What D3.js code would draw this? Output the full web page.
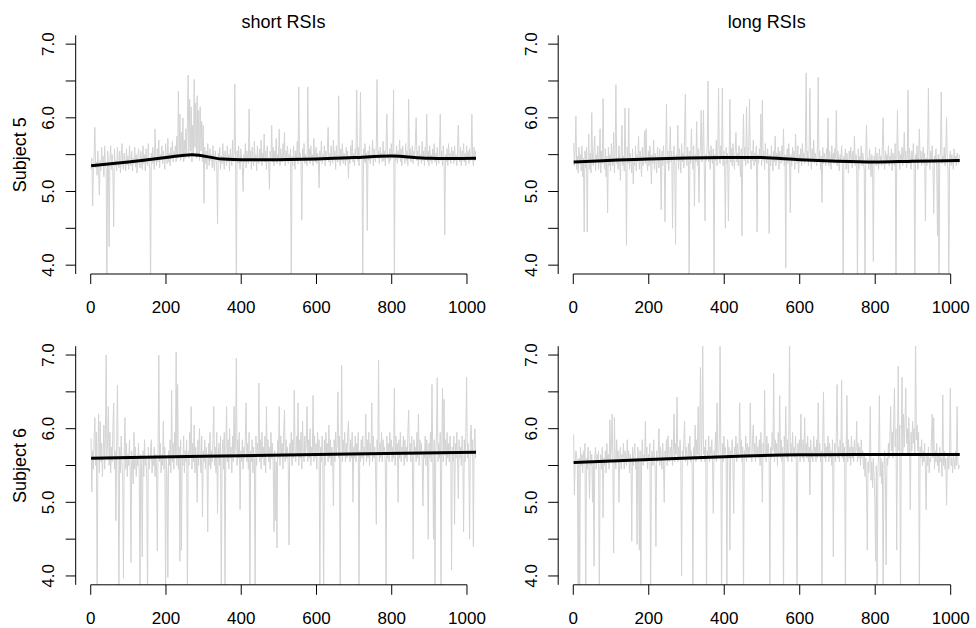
<!DOCTYPE html>
<html>
<head>
<meta charset="utf-8">
<script src="https://cdn.jsdelivr.net/npm/d3@7/dist/d3.min.js"></script>
<style>
  body { margin: 0; background: #fff; }
  text { font-family: "Liberation Sans", Arial, Helvetica, sans-serif; fill: #000; }
</style>
</head>
<body>
<svg id="chart" width="976" height="628"></svg>
<script>

// trial index of each value: 1 + i * step
var step = 2;
var nTrials = 1024;

var s5short = [
  5.30, 5.45, 4.80, 5.25, 5.50, 5.87, 5.32, 5.40, 5.22, 5.55, 5.30, 4.95, 5.42, 5.28, 5.60, 5.35,
  5.48, 5.20, 5.62, 5.38, 5.30, 3.60, 5.55, 5.35, 4.25, 5.45, 5.62, 5.30, 5.50, 5.25, 4.52, 5.58,
  5.35, 5.42, 5.28, 5.60, 5.40, 5.32, 5.55, 5.25, 5.45, 5.65, 5.38, 5.30, 5.52, 5.40, 5.28, 5.58,
  5.36, 5.48, 5.30, 5.62, 5.42, 5.35, 5.55, 5.28, 5.45, 5.38, 5.60, 5.33, 5.50, 5.25, 5.45, 5.58,
  5.40, 5.32, 5.55, 5.45, 5.30, 5.62, 5.38, 5.50, 5.28, 5.58, 5.42, 5.35, 5.65, 5.40, 5.30, 3.60,
  5.52, 5.38, 5.60, 5.42, 5.30, 5.85, 5.45, 5.35, 5.58, 5.40, 5.70, 5.32, 5.50, 5.45, 5.62, 5.38,
  5.55, 5.42, 5.30, 5.65, 5.45, 5.38, 5.72, 5.40, 5.52, 5.35, 5.60, 5.45, 5.68, 5.40, 5.55, 5.48,
  5.62, 5.40, 5.75, 5.45, 6.36, 5.50, 6.05, 5.42, 5.80, 5.48, 6.00, 5.40, 5.70, 5.45, 5.85, 5.52,
  5.95, 6.58, 5.45, 6.25, 5.55, 6.15, 5.40, 5.90, 5.48, 6.52, 5.60, 6.20, 5.45, 6.30, 5.50, 6.10,
  5.42, 6.15, 5.55, 5.95, 5.40, 5.90, 4.84, 5.60, 5.38, 5.55, 5.30, 5.65, 5.45, 5.35, 5.58, 5.42,
  5.50, 5.32, 5.62, 5.40, 5.28, 5.55, 5.45, 5.35, 4.56, 5.52, 5.40, 5.60, 5.30, 5.48, 5.38, 5.65,
  5.42, 5.30, 5.55, 5.45, 5.35, 5.62, 5.40, 5.50, 5.28, 5.58, 5.45, 5.35, 5.70, 5.40, 5.52, 6.46,
  5.45, 3.60, 5.55, 5.38, 5.62, 5.42, 5.30, 5.58, 5.45, 5.35, 5.00, 5.50, 5.40, 5.65, 5.32, 5.55,
  5.45, 5.38, 6.12, 5.42, 5.55, 5.30, 5.60, 5.45, 5.35, 5.68, 5.40, 5.50, 5.28, 5.62, 5.45, 5.38,
  5.58, 5.42, 5.70, 5.35, 5.52, 5.45, 5.78, 5.40, 5.55, 5.30, 5.62, 5.45, 5.38, 5.03, 5.55, 5.42,
  5.90, 5.40, 5.60, 5.35, 5.55, 5.45, 5.72, 5.38, 5.50, 5.42, 5.85, 5.35, 5.58, 5.45, 5.40, 5.65,
  5.42, 5.80, 5.35, 5.55, 5.45, 5.62, 5.38, 5.50, 5.42, 5.58, 3.60, 5.48, 5.35, 5.62, 5.45, 5.30,
  5.55, 5.42, 5.68, 5.38, 6.42, 5.45, 5.52, 5.35, 4.61, 5.58, 5.42, 5.65, 5.38, 5.50, 5.45, 5.35,
  6.42, 5.45, 5.58, 5.38, 5.62, 5.42, 5.50, 5.35, 5.72, 5.45, 5.40, 5.60, 5.38, 5.52, 5.45, 5.05,
  5.55, 5.42, 5.68, 5.38, 5.50, 5.45, 5.62, 5.35, 5.55, 5.42, 5.58, 5.87, 5.40, 5.52, 5.35, 5.62,
  5.45, 5.38, 5.70, 5.42, 5.55, 5.30, 5.62, 5.45, 5.40, 6.30, 5.48, 5.35, 5.58, 5.42, 5.65, 5.38,
  5.52, 5.45, 5.35, 5.60, 5.42, 5.55, 5.18, 5.48, 5.38, 5.62, 5.45, 5.70, 5.40, 5.52, 5.35, 5.58,
  5.45, 6.38, 5.42, 5.60, 5.35, 5.55, 6.35, 5.45, 5.50, 3.60, 5.58, 5.40, 5.65, 5.38, 5.52, 4.47,
  5.55, 5.42, 5.62, 5.38, 5.50, 5.45, 5.70, 5.35, 5.58, 5.45, 5.40, 5.62, 6.52, 5.45, 5.55, 5.38,
  5.60, 5.45, 5.52, 5.40, 5.68, 5.42, 5.55, 5.35, 5.62, 6.05, 5.45, 5.50, 5.38, 5.58, 5.42, 5.65,
  5.45, 5.55, 6.38, 3.60, 5.52, 5.42, 5.62, 5.38, 5.55, 5.45, 5.70, 5.40, 5.58, 5.35, 5.62, 5.45,
  5.50, 5.38, 5.65, 5.42, 5.55, 5.35, 6.25, 5.45, 5.58, 5.40, 5.52, 5.62, 5.38, 5.55, 5.45, 5.70,
  6.00, 5.42, 5.55, 5.35, 5.62, 5.45, 5.50, 5.38, 5.68, 5.42, 5.55, 5.35, 5.60, 5.45, 6.05, 5.40,
  5.55, 5.35, 5.62, 5.42, 5.50, 5.38, 5.58, 5.45, 5.65, 5.40, 5.52, 5.35, 5.60, 5.45, 5.38, 5.55,
  6.05, 5.42, 5.55, 5.35, 5.62, 5.45, 4.41, 5.50, 5.40, 5.58, 5.35, 5.65, 5.42, 5.52, 5.38, 5.60,
  5.45, 5.55, 5.38, 5.62, 5.42, 5.50, 5.35, 5.58, 5.90, 5.45, 5.40, 5.60, 5.35, 5.55, 5.42, 5.65,
  5.40, 5.52, 5.35, 5.62, 5.45, 5.55, 5.38, 5.58, 5.42, 5.50, 6.05, 5.45, 5.35, 5.60, 5.42, 5.55
];

var s5long = [
  5.66, 5.35, 5.55, 6.02, 5.30, 5.48, 5.25, 5.60, 5.38, 5.50, 5.28, 5.62, 5.20, 5.45, 4.45, 5.55,
  5.32, 5.60, 4.45, 5.40, 5.78, 5.30, 5.52, 5.25, 6.07, 5.45, 5.35, 5.58, 5.75, 5.28, 5.50, 5.40,
  5.62, 5.30, 5.45, 5.85, 5.25, 5.55, 5.38, 6.26, 5.42, 5.30, 5.58, 5.20, 5.48, 4.71, 5.60, 5.35,
  5.50, 5.28, 5.65, 5.40, 5.35, 5.80, 5.25, 5.52, 6.45, 5.38, 5.45, 5.30, 5.62, 5.42, 5.15, 5.55,
  5.90, 5.35, 5.48, 5.28, 6.13, 5.45, 4.27, 5.60, 5.38, 6.13, 5.30, 5.52, 5.42, 5.25, 5.58, 5.10,
  5.45, 5.35, 5.62, 5.28, 5.50, 5.40, 5.75, 5.30, 5.55, 5.42, 5.20, 5.60, 5.35, 5.48, 5.82, 5.38,
  5.85, 5.40, 5.28, 5.55, 5.35, 5.62, 5.45, 5.10, 5.50, 5.38, 5.70, 5.30, 5.52, 5.42, 5.25, 5.60,
  5.45, 5.32, 5.58, 5.40, 4.75, 5.55, 5.35, 5.62, 5.42, 4.59, 5.50, 6.19, 5.38, 5.55, 5.28, 5.45,
  5.88, 5.40, 5.55, 4.50, 5.45, 5.62, 5.35, 4.28, 5.50, 5.42, 5.90, 5.30, 5.58, 5.45, 5.25, 5.65,
  5.40, 5.52, 5.32, 5.78, 6.32, 5.45, 5.35, 5.60, 5.42, 3.60, 5.55, 5.38, 5.85, 5.45, 5.30, 5.62,
  4.80, 5.50, 5.40, 5.95, 5.35, 5.58, 4.85, 5.45, 5.62, 6.10, 5.40, 5.55, 6.10, 5.35, 4.60, 5.50,
  5.42, 5.65, 6.50, 5.40, 5.55, 5.30, 5.62, 5.45, 5.38, 5.58, 3.60, 5.50, 5.42, 5.70, 5.35, 5.55,
  6.40, 5.45, 5.38, 5.62, 5.48, 6.40, 5.35, 5.55, 5.42, 4.50, 5.60, 5.38, 5.52, 4.60, 5.45, 6.25,
  5.40, 5.58, 5.35, 5.65, 5.45, 5.30, 5.55, 5.80, 5.40, 5.52, 5.35, 5.62, 5.45, 5.20, 5.58, 4.40,
  5.50, 6.05, 5.42, 5.60, 5.35, 6.15, 5.48, 5.38, 5.62, 6.25, 5.45, 5.30, 5.55, 5.42, 5.70, 5.35,
  5.52, 5.40, 5.62, 4.45, 5.50, 5.38, 5.58, 5.45, 6.05, 5.35, 6.24, 5.42, 5.55, 5.30, 5.65, 5.45,
  5.38, 5.58, 5.42, 4.43, 5.50, 5.35, 5.62, 5.45, 5.28, 5.55, 5.40, 5.75, 5.35, 5.52, 5.42, 5.60,
  5.30, 5.55, 5.45, 5.38, 5.62, 5.42, 5.85, 5.35, 5.50, 3.96, 5.45, 5.58, 5.38, 5.65, 5.42, 4.71,
  5.50, 5.35, 5.60, 5.42, 5.55, 5.30, 5.78, 5.45, 5.38, 5.62, 5.25, 5.50, 5.42, 5.58, 5.35, 5.65,
  5.45, 5.52, 5.38, 5.60, 6.61, 5.42, 5.55, 5.35, 5.62, 6.40, 5.45, 5.30, 5.58, 5.42, 5.70, 5.38,
  5.52, 5.45, 5.35, 5.62, 6.55, 5.40, 5.55, 5.30, 5.48, 4.85, 5.60, 5.38, 5.52, 5.45, 5.35, 5.58,
  5.42, 6.00, 5.35, 5.55, 5.45, 5.30, 5.62, 5.40, 5.52, 5.38, 5.58, 5.45, 6.10, 5.35, 5.55, 5.42,
  5.28, 5.50, 5.40, 5.62, 5.35, 3.60, 5.48, 5.40, 5.58, 5.30, 5.52, 5.42, 5.25, 5.55, 5.38, 5.60,
  5.45, 5.32, 5.55, 5.40, 5.75, 5.35, 5.50, 5.42, 3.60, 5.58, 5.30, 5.48, 5.40, 5.62, 5.35, 5.52,
  5.42, 5.28, 3.60, 5.55, 5.90, 5.38, 5.45, 5.30, 5.58, 5.42, 5.20, 5.50, 5.35, 4.05, 5.48, 5.40,
  5.60, 5.35, 5.52, 5.42, 5.30, 5.58, 5.40, 5.48, 5.35, 5.62, 6.00, 5.42, 5.30, 5.55, 5.38, 5.50,
  5.42, 5.62, 5.35, 5.48, 5.40, 5.58, 5.28, 5.52, 5.45, 5.35, 5.65, 3.60, 5.42, 6.10, 5.38, 5.55,
  5.30, 5.50, 5.42, 5.60, 5.35, 5.48, 5.80, 5.40, 5.55, 5.32, 5.45, 6.38, 5.38, 5.58, 5.42, 5.30,
  5.55, 5.40, 5.65, 5.35, 3.60, 5.50, 5.42, 5.62, 5.30, 5.48, 5.85, 5.40, 5.55, 5.35, 5.45, 5.60,
  5.38, 5.52, 4.60, 5.45, 5.35, 5.58, 6.40, 5.42, 5.30, 5.55, 5.40, 5.62, 5.35, 4.70, 5.48, 5.40,
  5.58, 5.32, 4.40, 5.50, 3.60, 5.45, 5.55, 6.35, 5.38, 5.48, 5.42, 5.60, 5.35, 5.52, 6.00, 5.40,
  5.28, 3.60, 5.45, 5.55, 5.35, 5.50, 5.42, 5.30, 5.58, 5.40, 5.48, 5.35, 5.52, 5.42, 5.38, 5.50
];

var s6short = [
  5.87, 5.14, 5.70, 5.45, 5.85, 6.15, 5.50, 5.95, 3.60, 5.60, 6.20, 5.40, 6.10, 5.55, 5.80, 5.35,
  5.65, 6.05, 5.45, 5.90, 7.00, 5.60, 5.85, 6.30, 5.50, 5.95, 5.40, 5.75, 5.55, 6.00, 6.35, 5.45,
  5.70, 4.75, 5.85, 6.59, 5.50, 3.60, 5.75, 5.40, 5.90, 5.55, 5.30, 3.97, 5.70, 6.15, 5.45, 5.80,
  5.35, 5.65, 5.50, 5.85, 5.40, 4.18, 5.70, 5.55, 5.25, 5.95, 5.45, 5.75, 5.35, 5.60, 5.50, 5.80,
  5.40, 3.60, 5.65, 5.45, 4.26, 5.70, 5.35, 5.85, 5.50, 5.60, 5.30, 3.60, 5.75, 5.45, 5.55, 5.70,
  5.85, 5.40, 5.60, 5.50, 5.75, 5.35, 5.65, 5.45, 4.34, 5.70, 7.00, 5.55, 5.80, 5.40, 5.65, 5.50,
  6.10, 5.45, 5.75, 3.60, 5.60, 5.35, 3.98, 5.70, 5.50, 5.85, 5.40, 6.52, 5.55, 5.80, 5.45, 5.95,
  5.60, 7.04, 5.50, 6.60, 5.45, 5.75, 4.20, 5.85, 4.35, 5.65, 5.50, 5.90, 5.40, 5.70, 5.55, 5.85,
  3.60, 5.70, 5.50, 5.95, 5.60, 6.30, 5.45, 5.80, 5.55, 6.05, 5.40, 5.75, 5.60, 5.00, 5.85, 5.50,
  6.00, 5.65, 5.40, 5.90, 4.80, 5.70, 5.55, 5.85, 5.45, 5.75, 5.60, 4.60, 5.80, 5.50, 5.95, 5.45,
  5.70, 5.55, 5.85, 6.30, 5.50, 5.75, 5.40, 5.95, 4.85, 5.65, 5.80, 5.50, 5.90, 3.60, 5.60, 5.85,
  5.45, 5.95, 3.60, 5.70, 6.30, 5.55, 5.85, 5.45, 6.00, 5.60, 5.75, 5.40, 5.90, 5.55, 6.30, 5.65,
  5.80, 6.96, 5.50, 5.85, 5.60, 5.95, 4.90, 5.70, 5.55, 5.85, 5.45, 5.75, 5.60, 5.90, 6.35, 5.55,
  5.80, 5.45, 5.95, 3.60, 5.70, 5.55, 5.85, 5.40, 5.75, 5.60, 3.60, 5.90, 5.50, 5.80, 5.65, 6.62,
  5.55, 5.85, 5.45, 5.95, 5.60, 5.75, 5.50, 5.90, 5.40, 6.30, 5.65, 5.85, 5.55, 5.75, 5.45, 5.95,
  5.60, 5.80, 5.50, 4.60, 5.70, 4.75, 5.55, 4.38, 5.85, 5.60, 6.30, 5.50, 5.90, 5.65, 5.80, 5.45,
  5.95, 6.25, 5.55, 5.85, 5.60, 5.75, 5.50, 4.42, 5.80, 5.65, 5.95, 5.50, 5.85, 5.60, 6.52, 5.70,
  5.55, 5.90, 5.65, 6.35, 5.50, 5.85, 5.60, 5.95, 5.45, 6.10, 5.70, 5.55, 5.90, 5.65, 5.80, 6.30,
  5.55, 5.85, 5.60, 6.00, 5.50, 5.75, 5.65, 6.45, 5.55, 5.90, 5.60, 5.80, 5.45, 5.95, 5.65, 5.85,
  3.60, 5.75, 5.55, 5.90, 5.60, 3.60, 5.85, 5.50, 5.95, 5.65, 5.80, 5.55, 6.05, 5.60, 5.85, 5.50,
  5.75, 5.60, 4.95, 5.85, 5.55, 5.95, 5.65, 5.80, 6.50, 5.60, 5.90, 3.60, 5.70, 6.86, 5.55, 5.85,
  5.65, 5.95, 5.55, 5.80, 5.60, 5.90, 6.10, 5.70, 5.55, 5.85, 5.60, 5.95, 5.00, 5.75, 5.60, 5.90,
  5.55, 5.80, 5.65, 5.95, 3.60, 5.70, 5.55, 5.85, 5.60, 5.90, 5.50, 5.75, 5.65, 6.20, 5.55, 5.85,
  5.60, 5.95, 5.50, 5.80, 5.65, 6.35, 5.55, 5.90, 5.60, 5.75, 5.50, 4.70, 5.85, 5.65, 6.93, 5.55,
  5.80, 5.60, 5.95, 5.55, 5.85, 5.65, 5.75, 5.50, 3.60, 5.90, 5.60, 5.80, 5.55, 5.95, 5.65, 5.85,
  5.55, 5.75, 5.60, 6.55, 5.50, 5.90, 5.65, 5.80, 5.00, 5.85, 5.60, 5.95, 5.55, 5.75, 5.65, 5.90,
  5.50, 5.85, 5.60, 5.75, 5.55, 5.95, 6.25, 5.65, 5.80, 5.55, 5.90, 5.60, 4.23, 5.85, 5.65, 5.75,
  5.55, 5.95, 5.60, 6.20, 5.50, 5.85, 5.65, 5.80, 5.55, 4.95, 5.70, 5.60, 5.90, 5.50, 5.85, 5.65,
  4.50, 5.80, 5.60, 5.95, 5.55, 6.60, 5.70, 4.50, 5.85, 3.60, 5.65, 5.90, 6.69, 5.55, 5.80, 5.60,
  5.95, 3.60, 5.70, 6.55, 5.55, 6.40, 5.65, 5.85, 5.50, 5.95, 5.60, 5.80, 5.55, 5.90, 5.65, 4.08,
  5.75, 5.55, 5.90, 4.70, 5.80, 5.60, 5.95, 5.55, 5.05, 5.85, 5.60, 5.75, 5.50, 5.90, 5.65, 4.60,
  5.85, 5.55, 5.95, 6.70, 5.60, 5.80, 5.55, 4.50, 5.90, 6.05, 5.65, 5.85, 4.40, 5.75, 6.00, 5.60
];

var s6long = [
  5.92, 5.10, 5.55, 5.70, 5.65, 5.45, 3.60, 5.60, 3.60, 5.75, 5.50, 5.65, 5.40, 5.70, 5.55, 5.80,
  3.60, 5.60, 5.45, 5.75, 5.55, 5.05, 5.70, 5.50, 5.65, 5.00, 5.55, 4.13, 5.60, 5.75, 5.45, 5.65,
  5.55, 5.70, 3.60, 5.50, 5.65, 5.45, 5.75, 4.79, 5.60, 5.50, 5.70, 5.40, 5.80, 5.55, 5.65, 5.45,
  6.12, 5.55, 5.75, 6.20, 5.50, 4.31, 6.15, 5.60, 5.45, 5.85, 5.55, 5.70, 5.00, 5.60, 5.75, 5.45,
  5.65, 5.55, 5.80, 5.45, 5.70, 5.60, 5.50, 5.85, 5.55, 5.70, 5.40, 5.65, 5.55, 4.47, 5.75, 5.50,
  5.65, 5.80, 5.45, 5.60, 4.43, 5.75, 5.55, 4.35, 5.70, 3.60, 5.60, 5.85, 5.50, 5.65, 5.55, 6.10,
  5.55, 5.75, 5.45, 5.65, 5.60, 5.80, 3.60, 5.55, 5.70, 5.50, 5.85, 5.60, 5.45, 4.40, 5.70, 5.55,
  5.65, 6.00, 5.50, 5.75, 5.60, 5.45, 5.80, 5.55, 5.00, 5.70, 5.60, 5.85, 5.50, 5.90, 5.65, 5.55,
  5.75, 5.60, 5.85, 5.50, 5.70, 6.20, 5.55, 5.80, 5.65, 6.43, 5.55, 5.75, 5.60, 5.85, 5.50, 4.00,
  5.70, 5.60, 5.85, 6.10, 5.55, 5.75, 5.65, 5.50, 5.80, 5.60, 5.90, 5.55, 5.70, 5.45, 3.60, 5.75,
  5.60, 6.05, 5.55, 5.85, 5.65, 6.30, 5.60, 5.80, 6.83, 5.55, 5.90, 7.30, 5.65, 5.75, 5.55, 5.85,
  3.60, 5.70, 5.60, 5.90, 5.55, 5.75, 5.65, 5.85, 5.50, 4.85, 5.70, 5.60, 5.95, 5.55, 6.35, 5.70,
  5.60, 5.85, 7.30, 5.65, 3.60, 5.80, 5.55, 5.90, 5.65, 5.75, 5.55, 3.60, 5.85, 5.60, 5.75, 4.35,
  5.70, 5.60, 5.85, 5.55, 4.85, 5.75, 5.65, 5.90, 5.55, 5.80, 5.60, 5.70, 6.35, 5.65, 5.85, 5.55,
  5.75, 3.60, 5.70, 5.60, 5.90, 5.55, 5.80, 5.65, 5.75, 5.60, 6.35, 5.70, 5.55, 5.85, 6.05, 5.65,
  5.80, 5.55, 5.90, 5.65, 5.75, 5.60, 5.85, 5.50, 5.95, 5.65, 5.00, 5.80, 5.60, 6.52, 5.70, 5.55,
  5.90, 5.65, 5.80, 5.55, 3.60, 5.75, 5.60, 5.95, 5.70, 6.75, 5.55, 5.85, 5.65, 5.80, 5.50, 5.95,
  5.65, 6.45, 5.60, 5.85, 5.55, 5.75, 3.60, 5.90, 5.65, 6.30, 5.60, 5.85, 5.55, 5.75, 7.30, 5.65,
  5.80, 5.55, 5.95, 5.65, 5.75, 5.60, 5.90, 5.55, 3.60, 5.80, 5.65, 5.85, 5.55, 6.20, 5.70, 5.60,
  5.85, 5.55, 6.15, 5.65, 5.80, 5.60, 5.90, 5.55, 5.75, 5.10, 5.85, 5.60, 5.70, 5.55, 5.90, 5.65,
  5.75, 5.55, 5.85, 5.60, 6.35, 5.65, 5.80, 5.55, 5.70, 3.60, 5.90, 6.50, 5.60, 5.80, 5.55, 5.75,
  5.65, 5.90, 5.55, 5.80, 5.60, 5.70, 5.50, 5.85, 4.26, 5.65, 5.80, 5.55, 5.95, 6.60, 5.60, 5.75,
  5.55, 5.85, 5.65, 6.66, 5.60, 5.80, 5.55, 5.75, 3.60, 5.65, 6.45, 5.55, 5.85, 5.60, 5.75, 5.50,
  5.90, 5.60, 5.75, 5.55, 5.85, 5.65, 5.70, 6.10, 5.55, 5.80, 5.60, 5.75, 5.50, 5.85, 5.60, 5.70,
  5.45, 5.65, 5.35, 5.60, 5.25, 4.35, 5.55, 5.40, 5.65, 6.30, 5.30, 5.55, 5.20, 5.60, 5.35, 5.05,
  4.20, 5.50, 3.60, 5.40, 5.65, 6.45, 5.35, 5.60, 5.25, 5.55, 3.60, 5.45, 5.70, 5.35, 4.15, 5.60,
  5.50, 5.80, 5.60, 5.90, 6.30, 5.70, 5.95, 5.60, 6.10, 6.55, 5.75, 6.00, 4.35, 5.85, 6.85, 5.70,
  6.05, 3.60, 5.80, 6.70, 5.65, 6.20, 5.75, 6.10, 6.55, 5.80, 6.00, 5.65, 6.15, 5.75, 4.90, 5.95,
  5.70, 6.10, 5.80, 6.00, 5.65, 7.30, 5.85, 6.05, 5.70, 5.95, 3.60, 5.75, 5.60, 5.85, 5.50, 5.70,
  5.55, 5.80, 5.45, 4.90, 5.65, 5.50, 5.75, 5.40, 5.60, 5.55, 5.85, 6.20, 5.60, 6.15, 5.45, 5.70,
  5.55, 5.80, 5.50, 5.65, 5.40, 5.75, 5.55, 5.60, 5.35, 6.46, 5.50, 5.70, 5.45, 5.60, 4.96, 5.55,
  5.65, 5.45, 5.70, 6.55, 5.50, 5.60, 5.40, 5.65, 5.55, 5.45, 5.70, 5.50, 6.30, 5.55, 5.45, 5.50
];

// smoothed trend lines
var smooth5shortX = [1, 100, 200, 270, 350, 450, 600, 700, 800, 900, 1024];
var smooth5shortY = [5.35, 5.40, 5.46, 5.50, 5.44, 5.43, 5.44, 5.46, 5.48, 5.45, 5.45];
var smooth5longX = [1, 200, 400, 500, 600, 700, 800, 900, 1024];
var smooth5longY = [5.40, 5.44, 5.46, 5.46, 5.43, 5.41, 5.40, 5.41, 5.42];
var smooth6shortX = [1, 300, 600, 1024];
var smooth6shortY = [5.60, 5.625, 5.65, 5.68];
var smooth6longX = [1, 200, 400, 600, 800, 1024];
var smooth6longY = [5.54, 5.58, 5.62, 5.645, 5.65, 5.65];

var xTicks = [0, 200, 400, 600, 800, 1000];
var yTicks = [4, 4.5, 5, 5.5, 6, 6.5, 7];
var yLabelTicks = [4, 5, 6, 7];
var colTitles = ["short RSIs", "long RSIs"];
var rowLabels = ["Subject 5", "Subject 6"];

var svg = d3.select("#chart");

var cols = [{left: 75.7, right: 491.4}, {left: 558.2, right: 975.2}];
var rows = [{top: 35.3, bottom: 274}, {top: 346.2, bottom: 584.8}];

function draw(id, values, smX, smY, col, row) {
  var c = cols[col], r = rows[row];
  var pad = 0.04 * (nTrials - 1);

  var x = d3.scaleLinear()
      .domain([1 - pad, nTrials + pad])
      .range([c.left, c.right]);

  var y = d3.scaleLinear()
      .domain([4 - 0.12, 7 + 0.12])
      .range([r.bottom, r.top]);

  var g = svg.append("g");

  g.append("clipPath")
      .attr("id", "clip-" + id)
    .append("rect")
      .attr("x", c.left)
      .attr("y", r.top)
      .attr("width", c.right - c.left)
      .attr("height", r.bottom - r.top);

  var line = d3.line()
      .x(function(d, i) { return x(1 + i * step); })
      .y(function(d) { return y(d); });

  g.append("path")
      .datum(values)
      .attr("clip-path", "url(#clip-" + id + ")")
      .attr("fill", "none")
      .attr("stroke", "#d3d3d3")
      .attr("stroke-width", 1)
      .attr("stroke-linejoin", "round")
      .attr("d", line);

  var smooth = d3.line()
      .curve(d3.curveCatmullRom)
      .x(function(d) { return x(d[0]); })
      .y(function(d) { return y(d[1]); });

  g.append("path")
      .datum(d3.zip(smX, smY))
      .attr("fill", "none")
      .attr("stroke", "#000")
      .attr("stroke-width", 3)
      .attr("d", smooth);

  // x axis, R style: line only between the end ticks
  var ax = g.append("g").attr("transform", "translate(0," + r.bottom + ")");
  ax.append("line")
      .attr("x1", x(xTicks[0])).attr("x2", x(xTicks[xTicks.length - 1]))
      .attr("stroke", "#000");
  ax.selectAll(".tick")
      .data(xTicks)
    .enter().append("line")
      .attr("x1", function(d) { return x(d); })
      .attr("x2", function(d) { return x(d); })
      .attr("y2", 10)
      .attr("stroke", "#000");
  ax.selectAll("text")
      .data(xTicks)
    .enter().append("text")
      .attr("x", function(d) { return x(d); })
      .attr("y", 39)
      .attr("text-anchor", "middle")
      .style("font-size", "17px")
      .text(function(d) { return d; });

  // y axis
  var ay = g.append("g").attr("transform", "translate(" + c.left + ",0)");
  ay.append("line")
      .attr("y1", r.top).attr("y2", r.bottom)
      .attr("stroke", "#000");
  ay.selectAll(".tick")
      .data(yTicks)
    .enter().append("line")
      .attr("y1", function(d) { return y(d); })
      .attr("y2", function(d) { return y(d); })
      .attr("x2", -10)
      .attr("stroke", "#000");
  ay.selectAll("text")
      .data(yLabelTicks)
    .enter().append("text")
      .attr("transform", function(d) { return "translate(-21.5," + y(d) + ") rotate(-90)"; })
      .attr("text-anchor", "middle")
      .style("font-size", "17px")
      .text(function(d) { return d3.format(".1f")(d); });

  if (row === 0) {
    g.append("text")
        .attr("x", (c.left + c.right) / 2)
        .attr("y", 27.5)
        .attr("text-anchor", "middle")
        .style("font-size", "18px")
        .text(colTitles[col]);
  }

  if (col === 0) {
    g.append("text")
        .attr("transform", "translate(26," + (r.top + r.bottom) / 2 + ") rotate(-90)")
        .attr("text-anchor", "middle")
        .style("font-size", "18px")
        .text(rowLabels[row]);
  }
}

draw("s5short", s5short, smooth5shortX, smooth5shortY, 0, 0);
draw("s5long", s5long, smooth5longX, smooth5longY, 1, 0);
draw("s6short", s6short, smooth6shortX, smooth6shortY, 0, 1);
draw("s6long", s6long, smooth6longX, smooth6longY, 1, 1);

</script>
</body>
</html>
